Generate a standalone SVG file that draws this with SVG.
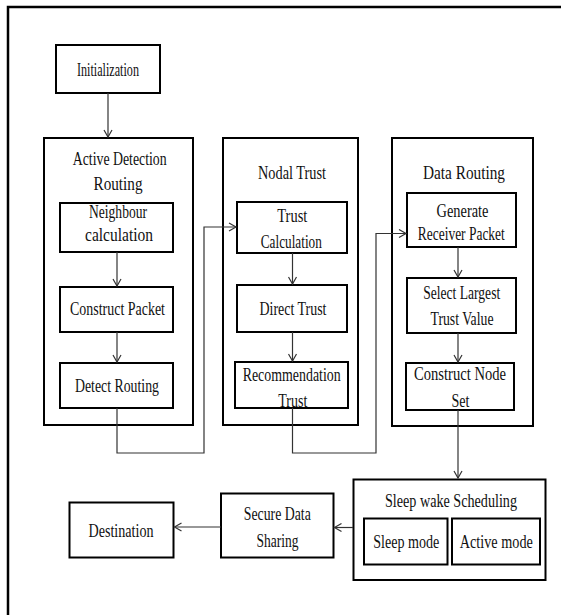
<svg xmlns="http://www.w3.org/2000/svg" width="561" height="615" viewBox="0 0 561 615">
<style>
.b{fill:#fff;stroke:#000;stroke-width:2}
.t{font-family:"Liberation Serif","Times New Roman",serif;font-size:18px;fill:#111;text-anchor:middle}
.c{fill:none;stroke:#333;stroke-width:1.2}
</style>
<defs>
<marker id="ah" markerWidth="10" markerHeight="10" refX="8" refY="5" orient="auto" markerUnits="userSpaceOnUse">
<polyline points="1,1 8,5 1,9" fill="none" stroke="#333" stroke-width="1.2"/>
</marker>
</defs>
<rect x="0" y="0" width="561" height="615" fill="#fff"/>
<rect x="8" y="7" width="570" height="620" fill="none" stroke="#000" stroke-width="2.5"/>

<g id="initialization">
<rect class="b" x="56" y="45" width="104" height="48"/>
<text class="t" x="108" y="76" textLength="62" lengthAdjust="spacingAndGlyphs">Initialization</text>
</g>

<g id="active-detection-routing">
<rect class="b" x="44" y="138" width="149" height="287"/>
<text class="t" x="119.7" y="165" textLength="94" lengthAdjust="spacingAndGlyphs">Active Detection</text>
<text class="t" x="118" y="190" textLength="49" lengthAdjust="spacingAndGlyphs">Routing</text>
</g>
<g id="neighbour-calculation">
<rect class="b" x="60" y="203" width="113" height="49"/>
<text class="t" x="118" y="218" textLength="58" lengthAdjust="spacingAndGlyphs">Neighbour</text>
<text class="t" x="119" y="241" textLength="68" lengthAdjust="spacingAndGlyphs">calculation</text>
</g>
<g id="construct-packet">
<rect class="b" x="60" y="287" width="113" height="45"/>
<text class="t" x="117.5" y="315" textLength="95" lengthAdjust="spacingAndGlyphs">Construct Packet</text>
</g>
<g id="detect-routing">
<rect class="b" x="60" y="363" width="113" height="45"/>
<text class="t" x="117" y="391.5" textLength="84" lengthAdjust="spacingAndGlyphs">Detect Routing</text>
</g>

<g id="nodal-trust">
<rect class="b" x="223" y="138" width="135" height="287"/>
<text class="t" x="292" y="178.5" textLength="68" lengthAdjust="spacingAndGlyphs">Nodal Trust</text>
</g>
<g id="trust-calculation">
<rect class="b" x="237" y="202" width="110" height="51"/>
<text class="t" x="292.3" y="221.5" textLength="30" lengthAdjust="spacingAndGlyphs">Trust</text>
<text class="t" x="291.3" y="248" textLength="61" lengthAdjust="spacingAndGlyphs">Calculation</text>
</g>
<g id="direct-trust">
<rect class="b" x="237" y="285" width="110" height="47"/>
<text class="t" x="293" y="315" textLength="67" lengthAdjust="spacingAndGlyphs">Direct Trust</text>
</g>
<g id="recommendation-trust">
<rect class="b" x="235" y="362" width="113" height="46"/>
<text class="t" x="291.7" y="380.5" textLength="98" lengthAdjust="spacingAndGlyphs">Recommendation</text>
<text class="t" x="292.8" y="406.5" textLength="29" lengthAdjust="spacingAndGlyphs">Trust</text>
</g>

<g id="data-routing">
<rect class="b" x="392" y="138" width="141" height="288"/>
<text class="t" x="464" y="178.5" textLength="82" lengthAdjust="spacingAndGlyphs">Data Routing</text>
</g>
<g id="generate-receiver-packet">
<rect class="b" x="407" y="193" width="109" height="54"/>
<text class="t" x="462.5" y="216.5" textLength="52" lengthAdjust="spacingAndGlyphs">Generate</text>
<text class="t" x="461.3" y="240" textLength="87" lengthAdjust="spacingAndGlyphs">Receiver Packet</text>
</g>
<g id="select-largest-trust-value">
<rect class="b" x="407" y="278" width="109" height="55"/>
<text class="t" x="461.7" y="298.5" textLength="77" lengthAdjust="spacingAndGlyphs">Select Largest</text>
<text class="t" x="462" y="325" textLength="63" lengthAdjust="spacingAndGlyphs">Trust Value</text>
</g>
<g id="construct-node-set">
<rect class="b" x="406" y="363" width="108" height="47"/>
<text class="t" x="460" y="380" textLength="92" lengthAdjust="spacingAndGlyphs">Construct Node</text>
<text class="t" x="460.5" y="406.5" textLength="18" lengthAdjust="spacingAndGlyphs">Set</text>
</g>

<g id="sleep-wake-scheduling">
<rect class="b" x="353.5" y="479.5" width="192" height="100.5"/>
<text class="t" x="451" y="506.5" textLength="132" lengthAdjust="spacingAndGlyphs">Sleep wake Scheduling</text>
</g>
<g id="sleep-mode">
<rect class="b" x="364" y="518.5" width="83.5" height="46"/>
<text class="t" x="406.3" y="548.3" textLength="66" lengthAdjust="spacingAndGlyphs">Sleep mode</text>
</g>
<g id="active-mode">
<rect class="b" x="452" y="518.5" width="88" height="46"/>
<text class="t" x="496.3" y="548.3" textLength="73" lengthAdjust="spacingAndGlyphs">Active mode</text>
</g>
<g id="secure-data-sharing">
<rect class="b" x="221" y="493.5" width="112.5" height="64"/>
<text class="t" x="277.3" y="520" textLength="67" lengthAdjust="spacingAndGlyphs">Secure Data</text>
<text class="t" x="277.5" y="547" textLength="42" lengthAdjust="spacingAndGlyphs">Sharing</text>
</g>
<g id="destination">
<rect class="b" x="69.5" y="502.5" width="104" height="55"/>
<text class="t" x="121" y="536.5" textLength="65" lengthAdjust="spacingAndGlyphs">Destination</text>
</g>

<g id="connectors">
<path class="c" d="M108,93 V137" marker-end="url(#ah)"/>
<path class="c" d="M117,252 V286" marker-end="url(#ah)"/>
<path class="c" d="M117,332 V362" marker-end="url(#ah)"/>
<path class="c" d="M117,408 V453 H204 V227 H236" marker-end="url(#ah)"/>
<path class="c" d="M292.5,253 V284" marker-end="url(#ah)"/>
<path class="c" d="M292.5,332 V361" marker-end="url(#ah)"/>
<path class="c" d="M292.5,408 V453 H376 V233.5 H406" marker-end="url(#ah)"/>
<path class="c" d="M458,247 V277" marker-end="url(#ah)"/>
<path class="c" d="M458,333 V362" marker-end="url(#ah)"/>
<path class="c" d="M458,410 V478" marker-end="url(#ah)"/>
<path class="c" d="M353,527.5 H334.5" marker-end="url(#ah)"/>
<path class="c" d="M221,527 H174.5" marker-end="url(#ah)"/>
</g>
</svg>
